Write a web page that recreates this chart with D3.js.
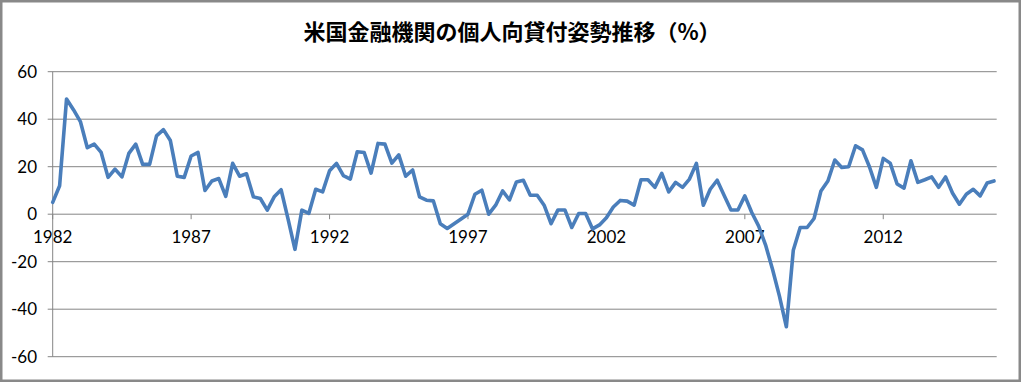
<!DOCTYPE html>
<html>
<head>
<meta charset="utf-8">
<script src="https://cdn.jsdelivr.net/npm/d3@7"></script>
<style>
  body { margin: 0; background: #fff; }
  svg { display: block; }
</style>
</head>
<body>
<div id="chart"></div>
<script>
// chart data: quarterly, 1982Q1 .. 2016Q1
var chartTitle = "米国金融機関の個人向貸付姿勢推移（%）";
var tickLabels = ["1982", "1987", "1992", "1997", "2002", "2007", "2012"];
var yTicks = [-60, -40, -20, 0, 20, 40, 60];
var values = [
    5, 12, 48.5, 44, 39, 28, 29.5, 26, 15.5, 19,
    15.7, 25.6, 29.5, 21, 21, 33, 35.6, 31, 16, 15.5,
    24.5, 26, 10, 14, 15, 7.5, 21.4, 16, 17, 7.3,
    6.6, 1.7, 7.3, 10.3, -2, -14.8, 1.7, 0.3, 10.5, 9.4,
    18.3, 21.4, 16.2, 14.8, 26.3, 26, 17.3, 29.8, 29.5, 21.5,
    25, 16, 18.6, 7.3, 5.9, 5.6, -4, -6, -4, -2,
    0, 8.4, 10.1, 0, 3.8, 9.8, 6, 13.6, 14.3, 8,
    8, 3.8, -4, 1.8, 1.8, -5.6, 0.3, 0.3, -6.2, -4.5,
    -1.5, 3, 5.8, 5.5, 3.8, 14.5, 14.5, 11.3, 17.2, 9.4,
    13.4, 11.3, 14.8, 21.4, 3.8, 10.5, 14.3, 8, 1.8, 1.8,
    7.7, 0.7, -5, -13, -23.2, -34.5, -47.4, -15.2, -5.6, -5.6,
    -1.8, 9.8, 14, 22.8, 19.7, 20, 28.8, 27.1, 20, 11.3,
    23.5, 21.5, 12.7, 11, 22.5, 13.4, 14.5, 15.7, 11.3, 15.7,
    8.9, 4.2, 8.4, 10.5, 7.7, 13.1, 14
];

var width = 1021, height = 382;
var margin = { top: 71.7, right: 24.3, bottom: 25.3, left: 52.7 };

var svg = d3.select("#chart")
    .append("svg")
    .attr("width", width)
    .attr("height", height);

// outer frame
svg.append("rect")
    .attr("x", 1.25).attr("y", 1.25)
    .attr("width", width - 2.5).attr("height", height - 2.5)
    .attr("fill", "#fff")
    .attr("stroke", "#898989")
    .attr("stroke-width", 2.5);

// title
svg.append("text")
    .attr("x", 512)
    .attr("y", 40)
    .attr("text-anchor", "middle")
    .style("font-family", "'Noto Sans CJK JP', sans-serif")
    .style("font-weight", "bold")
    .style("font-size", "22px")
    .style("fill", "#000")
    .text(chartTitle);

// scales
var x = d3.scaleLinear()
    .domain([0, values.length - 1])
    .range([margin.left, 994]);

var y = d3.scaleLinear()
    .domain([-60, 60])
    .range([height - margin.bottom, margin.top]);

// horizontal gridlines
svg.append("g")
    .selectAll("line")
    .data(yTicks)
    .enter()
    .append("line")
    .attr("x1", margin.left - 5)
    .attr("x2", width - margin.right)
    .attr("y1", function (d) { return y(d); })
    .attr("y2", function (d) { return y(d); })
    .attr("stroke", "#868686")
    .attr("stroke-width", 1);

// y axis line + labels
svg.append("line")
    .attr("x1", margin.left).attr("x2", margin.left)
    .attr("y1", y(60)).attr("y2", y(-60))
    .attr("stroke", "#868686");

svg.append("g")
    .selectAll("text")
    .data(yTicks)
    .enter()
    .append("text")
    .attr("x", 37)
    .attr("y", function (d) { return y(d); })
    .attr("dy", "0.35em")
    .attr("text-anchor", "end")
    .style("font-family", "Lato, 'Liberation Sans', sans-serif")
    .style("font-size", "17px")
    .style("fill", "#000")
    .text(function (d) { return d; });

// x axis at zero with ticks every 5 years
var tickIdx = tickLabels.map(function (d, i) { return i * 20; });

svg.append("g")
    .selectAll("line")
    .data(tickIdx)
    .enter()
    .append("line")
    .attr("x1", function (d) { return x(d); })
    .attr("x2", function (d) { return x(d); })
    .attr("y1", y(0))
    .attr("y2", y(0) + 5)
    .attr("stroke", "#868686");

svg.append("g")
    .selectAll("text")
    .data(tickLabels)
    .enter()
    .append("text")
    .attr("x", function (d, i) { return x(tickIdx[i]); })
    .attr("y", y(0) + 29)
    .attr("text-anchor", "middle")
    .style("font-family", "Lato, 'Liberation Sans', sans-serif")
    .style("font-size", "17px")
    .style("fill", "#000")
    .text(function (d) { return d; });

// the line
var line = d3.line()
    .x(function (d, i) { return x(i); })
    .y(function (d) { return y(d); });

svg.append("path")
    .datum(values)
    .attr("d", line)
    .attr("fill", "none")
    .attr("stroke", "#4A7EBB")
    .attr("stroke-width", 3.6)
    .attr("stroke-linejoin", "round")
    .attr("stroke-linecap", "round");
</script>
</body>
</html>
